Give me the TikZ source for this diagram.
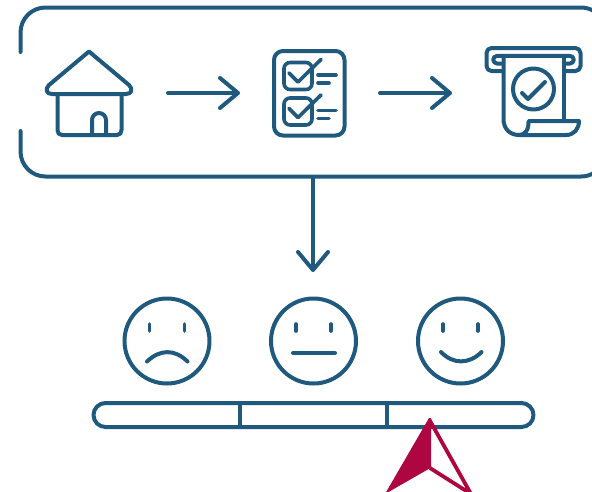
\documentclass[tikz,border=0pt]{standalone}
\usetikzlibrary{arrows.meta}
\definecolor{slate}{HTML}{1F5A7E}
\definecolor{crimson}{HTML}{AE0640}
\tikzset{
  stroke/.style={draw=slate, line width=4pt, line cap=round, line join=round},
  fine/.style={draw=slate, line width=3.6pt, line cap=round, line join=round},
  flow/.style={stroke, -{Straight Barb[length=18pt, width=30pt, round]}},
}
\begin{document}
\begin{tikzpicture}[x=1pt, y=-1pt]
\useasboundingbox (0, 0) rectangle (592, 491);
\clip (0, 0) rectangle (592, 491);
%Frame
\draw[stroke] (20.5, 52) -- (20.5, 32.5) arc[start angle=180, end angle=90, x radius=25, y radius=-25] -- (581, 7.5) arc[start angle=90, end angle=30, x radius=25, y radius=-25];
\draw[stroke] (20.5, 131) -- (20.5, 151.5) arc[start angle=180, end angle=270, x radius=25, y radius=-25] -- (581, 176.5) arc[start angle=270, end angle=330, x radius=25, y radius=-25];
%House
\draw[stroke] (89, 51.5) -- (129, 85) .. controls (133, 89) and (132, 94) .. (126, 94) -- (52, 94) .. controls (46, 94) and (45, 89) .. (49, 85) -- cycle;
\draw[stroke] (57.5, 94) -- (57.5, 130) .. controls (57.5, 133) and (59, 135) .. (62, 135) -- (117, 135) .. controls (120, 135) and (121.5, 133) .. (121.5, 130) -- (121.5, 94);
\draw[stroke] (92, 135) -- (92, 120) arc[start angle=180, end angle=0, x radius=7, y radius=-7] -- (106, 135);
%Checklist
\draw[stroke, rounded corners=9pt] (274, 51) rectangle (344.5, 135.5);
\foreach \rowy in {0, 35.5} {
  \draw[fine, rounded corners=6pt] (284, 62.5 + \rowy) rectangle (312, 89.5 + \rowy);
  \draw[fine] (289, 73 + \rowy) -- (298, 82 + \rowy) -- (321, 59.5 + \rowy);
  \draw[fine] (318, 75 + \rowy) -- (336, 75 + \rowy);
  \draw[fine] (318, 83 + \rowy) -- (329, 83 + \rowy);
}
%Receipt
\draw[stroke, rounded corners=5pt] (503, 71) -- (486.5, 71) -- (486.5, 48) -- (580.5, 48) -- (580.5, 71) -- (564, 71);
\draw[stroke] (503, 63.5) -- (497, 63.5) arc[start angle=270, end angle=90, x radius=3.8, y radius=-3.8] -- (570, 55.9) arc[start angle=90, end angle=-90, x radius=3.8, y radius=-3.8] -- (564, 63.5);
\draw[stroke] (503.5, 56) -- (503.5, 119) .. controls (503.5, 129) and (510, 135) .. (519, 135) .. controls (525, 135) and (529, 130) .. (528.5, 121) -- (579, 121) .. controls (579, 129) and (574, 135) .. (566, 135) -- (519, 135);
\draw[stroke] (564, 56) -- (564, 121);
\draw[stroke] (533.5, 89) circle (20.5);
\draw[stroke] (522, 93) -- (528, 99) -- (545, 82);
%Process arrows
\coordinate (house east) at (168, 93);
\coordinate (list west) at (240, 93);
\coordinate (list east) at (380, 93);
\coordinate (receipt west) at (452, 93);
\coordinate (frame south) at (313, 177);
\coordinate (faces north) at (313, 272);
\draw[flow] (house east) -- (list west);
\draw[flow] (list east) -- (receipt west);
\draw[flow] (frame south) -- (faces north);
%Faces
\foreach \facex in {167, 313.5, 460.5} {
  \draw[stroke] (\facex, 341) circle (42.5);
  \draw[fine] (\facex - 17.5, 324) -- (\facex - 17.5, 331);
  \draw[fine] (\facex + 17.5, 324) -- (\facex + 17.5, 331);
}
\draw[stroke] (147, 361.5) .. controls (160, 349) and (175, 349) .. (187.5, 361.5);
\draw[stroke] (293, 353) -- (335, 353);
\draw[stroke] (441, 352) .. controls (453, 364.5) and (469, 364.5) .. (481.5, 352);
%Scale
\draw[stroke, rounded corners=12pt] (93.5, 403) rectangle (533.5, 427);
\draw[stroke, line cap=butt] (240, 403) -- (240, 427);
\draw[stroke, line cap=butt] (387, 403) -- (387, 427);
%Pointer
\fill[crimson] (429, 418) -- (431, 418) -- (431, 467) -- (429.5, 468.5) -- (385, 494) -- cycle;
\draw[crimson, line width=3.8pt, line join=round] (429.5, 420) -- (471, 494) -- (430, 468);
\end{tikzpicture}
\end{document}
